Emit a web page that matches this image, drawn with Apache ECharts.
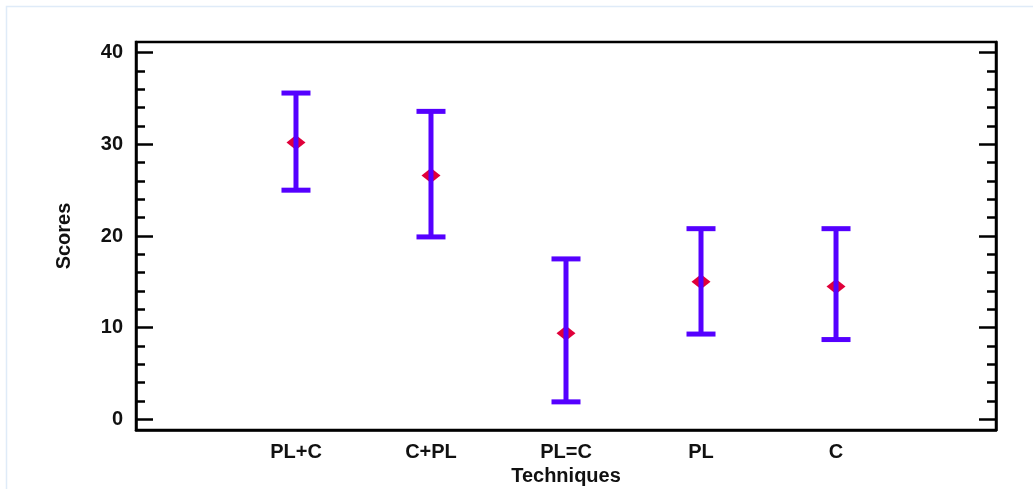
<!DOCTYPE html>
<html>
<head>
<meta charset="utf-8">
<script src="https://cdn.jsdelivr.net/npm/echarts@6/dist/echarts.min.js"></script>
<style>html,body{margin:0;padding:0;background:#fff}#c{width:1033px;height:489px}</style>
</head>
<body>
<div id="c"></div>
<script>
const categories = ['PL+C', 'C+PL', 'PL=C', 'PL', 'C'];
const means = [30.2, 26.6, 9.4, 15.0, 14.5];
const lowerBounds = [25.0, 19.9, 1.9, 9.3, 8.7];
const upperBounds = [35.6, 33.6, 17.5, 20.8, 20.8];
const majorTicks = [0, 10, 20, 30, 40];
const minorTicks = [2, 4, 6, 8, 12, 14, 16, 18, 22, 24, 26, 28, 32, 34, 36, 38];

const chart = echarts.init(document.getElementById('c'), null, {renderer: 'canvas'});
const FONT = 'Liberation Sans, Arial, sans-serif';
const BAR = '#5500ff';
const DOT = '#e0003a';
const FS = 20;

const data = categories.map((c, i) => [i + 1, lowerBounds[i], upperBounds[i], means[i]]);
const catPos = categories.map((c, i) => i + 1);

const yMin = -1.17, yMax = 41.17;
const baseY = {
  type: 'value', min: yMin, max: yMax, splitLine: {show: false},
  axisLine: {show: false, onZero: false}, axisLabel: {show: false}
};
function tickAxis(pos, vals, len, extra) {
  return Object.assign({}, baseY, {
    position: pos,
    axisTick: {show: true, inside: true, length: len, customValues: vals,
      lineStyle: {color: '#000', width: 2.5}}
  }, extra || {});
}

chart.setOption({
  animation: false,
  backgroundColor: '#fff',
  graphic: [{
    type: 'rect', shape: {x: 6.5, y: 6.5, width: 1200, height: 1000},
    style: {fill: null, stroke: '#dfebf8', lineWidth: 1.5}, silent: true, z: -10
  }],
  grid: {left: 136, right: 37, top: 42, bottom: 59, outerBoundsMode: 'none', containLabel: false,
    show: true, borderColor: '#000', borderWidth: 2.5, backgroundColor: '#fff'},
  xAxis: {
    type: 'value', min: -0.185, max: 6.185,
    name: 'Techniques', nameLocation: 'middle', nameGap: 36,
    nameTextStyle: {fontFamily: FONT, fontWeight: 'bold', fontSize: FS, color: '#111'},
    axisLine: {show: true, onZero: false, lineStyle: {color: '#000', width: 2.5}},
    axisTick: {show: false},
    splitLine: {show: false},
    axisLabel: {
      customValues: catPos, margin: 12,
      fontFamily: FONT, fontWeight: 'bold', fontSize: FS, color: '#111',
      formatter: v => categories[Math.round(v) - 1] || ''
    }
  },
  yAxis: [
    tickAxis('left', majorTicks, 17, {
      axisLine: {show: true, onZero: false, lineStyle: {color: '#000', width: 2.5}},
      axisLabel: {show: true, customValues: majorTicks, margin: 13, padding: [9, 0, 0, 0],
        fontFamily: FONT, fontWeight: 'bold', fontSize: FS, color: '#111'},
      name: 'Scores', nameLocation: 'middle', nameGap: 62, nameRotate: 90,
      nameTextStyle: {fontFamily: FONT, fontWeight: 'bold', fontSize: FS, color: '#111'}
    }),
    tickAxis('left', minorTicks, 9),
    tickAxis('right', majorTicks, 17, {axisLine: {show: true, onZero: false, lineStyle: {color: '#000', width: 2.5}}}),
    tickAxis('right', minorTicks, 9)
  ],
  series: [{
    type: 'custom',
    clip: false,
    data: data,
    encode: {x: 0, y: [1, 2, 3]},
    renderItem: function (params, api) {
      const x = api.value(0);
      const lo = api.coord([x, api.value(1)]);
      const hi = api.coord([x, api.value(2)]);
      const m = api.coord([x, api.value(3)]);
      const capW = 29, capH = 5, dW = 9.5, dH = 7.5;
      return {
        type: 'group',
        children: [
          {type: 'polygon', shape: {points: [[m[0] - dW, m[1]], [m[0], m[1] - dH], [m[0] + dW, m[1]], [m[0], m[1] + dH]]},
            style: {fill: DOT}},
          {type: 'line', shape: {x1: hi[0], y1: hi[1], x2: lo[0], y2: lo[1]},
            style: {stroke: BAR, lineWidth: 5}},
          {type: 'rect', shape: {x: hi[0] - capW / 2, y: hi[1] - capH / 2, width: capW, height: capH},
            style: {fill: BAR}},
          {type: 'rect', shape: {x: lo[0] - capW / 2, y: lo[1] - capH / 2, width: capW, height: capH},
            style: {fill: BAR}}
        ]
      };
    }
  }]
});
</script>
</body>
</html>
